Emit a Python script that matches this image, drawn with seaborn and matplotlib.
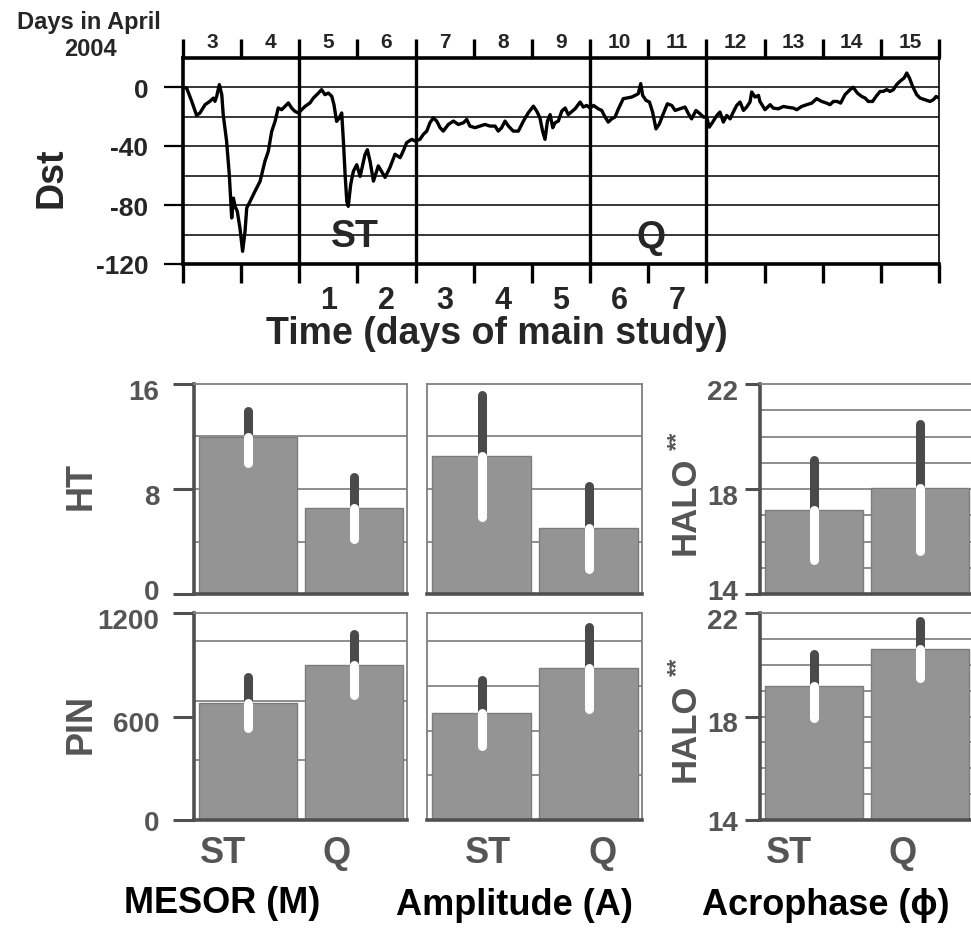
import matplotlib
matplotlib.use("Agg")
import matplotlib.pyplot as plt
import seaborn as sns
import numpy as np
import pandas as pd
from matplotlib.transforms import ScaledTranslation

# ---------------- data ----------------
dst_hours = [0.0, 1.5, 3.6, 5.6, 7.0, 9.1, 11.1, 12.5, 13.2, 13.9, 15.0, 16.0, 16.6, 18.0, 19.1,
             19.7, 20.1, 20.8, 21.5, 22.4, 23.5, 24.6, 25.6, 26.3, 27.7, 29.7, 31.8, 33.8, 35.2,
             36.6, 38.0, 39.3, 40.7, 42.1, 43.5, 44.8, 46.2, 47.6, 49.0, 50.4, 52.4, 53.8, 55.9,
             57.2, 58.6, 60.0, 61.4, 62.3, 63.4, 64.5, 65.5, 66.2, 66.9, 67.6, 68.2, 69.2, 70.3,
             71.7, 73.1, 74.2, 75.1, 76.1, 77.2, 78.6, 80.6, 83.4, 85.4, 87.5, 89.6, 90.9, 92.3,
             94.4, 95.7, 97.8, 99.2, 100.6, 101.9, 103.3, 104.7, 106.1, 107.4, 109.5, 111.6,
             113.6, 115.7, 117.1, 118.4, 120.5, 122.6, 124.6, 126.7, 128.8, 130.1, 131.5, 132.9,
             134.3, 136.3, 138.4, 140.5, 142.5, 144.6, 146.0, 147.3, 148.4, 149.4, 150.4, 151.5,
             152.6, 153.5, 154.9, 156.3, 157.7, 159.0, 161.8, 163.9, 165.2, 166.6, 168.0, 169.4,
             171.4, 172.8, 174.2, 175.5, 176.9, 178.3, 179.7, 181.7, 183.1, 185.2, 186.6, 187.9,
             188.9, 189.7, 191.1, 192.5, 193.8, 195.2, 196.6, 198.2, 199.9, 201.7, 203.1, 205.1,
             207.2, 208.6, 209.9, 211.7, 213.4, 214.8, 216.1, 217.2, 218.6, 220.3, 221.6, 223.0,
             224.4, 225.8, 227.1, 228.5, 229.9, 231.3, 232.6, 234.0, 234.7, 236.1, 237.5, 238.1,
             240.2, 242.3, 243.6, 245.7, 247.8, 249.8, 251.9, 253.3, 255.3, 257.4, 259.5, 261.5,
             263.6, 265.6, 267.0, 268.4, 270.0, 271.4, 273.2, 275.3, 276.6, 278.3, 280.1, 281.5,
             282.8, 284.6, 286.0, 287.7, 289.0, 290.4, 291.8, 293.2, 294.5, 295.9, 297.6, 298.7,
             299.8, 301.1, 302.8, 304.2, 306.2, 308.3, 309.7, 310.8, 312.0]
dst_values = [0.0, -0.7, -9.7, -19.2, -17.6, -12.0, -9.7, -7.5, -9.7, -6.3, 1.6, -5.2, -18.8, -36.8,
              -59.4, -77.5, -88.8, -75.3, -80.9, -84.3, -95.6, -111.4, -97.9, -82.0, -77.5, -70.7,
              -64.0, -50.4, -43.6, -30.1, -23.3, -14.2, -15.4, -13.1, -10.8, -14.2, -16.5, -17.6,
              -15.4, -13.1, -10.8, -7.5, -4.1, -1.8, -5.2, -4.1, -6.3, -12.0, -23.3, -21.0, -17.6,
              -36.8, -59.4, -77.5, -80.9, -66.2, -57.2, -52.7, -60.6, -52.7, -45.9, -42.5, -50.4,
              -63.8, -53.5, -61.3, -54.6, -45.6, -47.9, -43.4, -37.7, -35.5, -36.6, -35.5, -32.1,
              -29.9, -24.3, -20.9, -23.1, -27.6, -29.9, -25.4, -23.1, -25.4, -24.3, -22.0, -26.5,
              -27.6, -26.5, -25.4, -26.5, -26.5, -29.9, -27.6, -23.1, -26.5, -29.9, -29.9, -23.1,
              -17.5, -13.0, -16.4, -20.9, -29.9, -35.5, -23.1, -18.7, -27.6, -24.3, -23.1, -16.4,
              -14.2, -18.7, -14.8, -10.2, -13.6, -12.5, -14.3, -12.5, -14.8, -15.9, -20.4, -23.8,
              -21.6, -20.4, -14.8, -7.9, -7.5, -6.8, -5.7, -4.5, 2.3, -5.7, -9.1, -10.2, -17.0,
              -28.4, -25.0, -18.2, -11.4, -12.5, -15.9, -14.8, -13.6, -18.2, -21.6, -15.9, -18.2,
              -20.4, -20.4, -27.2, -23.8, -19.3, -17.0, -23.8, -19.3, -21.6, -17.0, -12.5, -10.2,
              -15.9, -13.6, -10.2, -3.4, -6.8, -5.7, -9.8, -15.4, -12.0, -14.3, -14.8, -13.2,
              -13.8, -14.3, -15.4, -13.2, -12.0, -10.9, -7.9, -9.8, -10.9, -12.0, -9.8, -9.8,
              -10.9, -5.2, -1.8, -0.2, -4.1, -6.4, -7.5, -9.8, -9.8, -6.4, -3.0, -3.0, -1.8,
              -3.0, -1.8, 1.6, 3.9, 6.1, 9.5, 6.1, 0.5, -5.2, -7.5, -8.6, -9.8, -8.6, -6.4, -7.5]

april_days = list(range(3, 16))          # top labels (days in April 2004)
study_days = list(range(1, 8))           # bottom labels (days of main study), April 5..11
study_first_april_day = 5
period_bounds = [5, 7, 10, 12]           # thick separators (ST: 5-6, Q: 10-11)
dst_ticks = [0, -40, -80, -120]
dst_minor = [-20, -60, -100]

groups = ["ST", "Q"]
ht_mesor, ht_mesor_ci = [11.95, 6.55], [2.0, 2.35]
ht_amp, ht_amp_ci = [10.5, 5.05], [4.65, 3.15]
ht_phase, ht_phase_ci = [17.2, 18.05], [1.9, 2.42]
pin_mesor, pin_mesor_ci = [681, 900], [147, 176]
pin_amp, pin_amp_ci = [620, 881], [191, 235]
pin_phase, pin_phase_ci = [19.19, 20.6], [1.23, 1.1]

# ---------------- style ----------------
sns.set_theme(style="white")
plt.rcParams["font.family"] = ["Liberation Sans", "DejaVu Sans"]
plt.rcParams["font.weight"] = "bold"
plt.rcParams["axes.unicode_minus"] = False

W, H = 971, 929
fig = plt.figure(figsize=(W / 100, H / 100), dpi=100)


def rect(x0, y0, x1, y1):
    return [x0 / W, 1 - y1 / H, (x1 - x0) / W, (y1 - y0) / H]


def shift(artist, dx, dy):
    artist.set_transform(artist.get_transform() +
                         ScaledTranslation(dx / 100, -dy / 100, fig.dpi_scale_trans))


# ---------------- top Dst chart ----------------
ax = fig.add_axes(rect(183, 58.5, 939, 265))
df = pd.DataFrame({"day": 3 + np.array(dst_hours) / 24.0, "dst": dst_values})
sns.lineplot(data=df, x="day", y="dst", ax=ax, color="black", lw=2.4,
             estimator=None, sort=False)
ax.set_xlim(3, 16)
ax.set_ylim(-120, 20)
ax.set_yticks(dst_ticks)
ax.set_yticks(dst_minor, minor=True)
ax.grid(False)
ax.grid(axis="y", which="both", color="black", lw=1.1)
ax.tick_params(axis="y", which="major", direction="out", length=14, width=1.6,
               color="black", labelsize=19, pad=11, left=True)
ax.tick_params(axis="y", which="minor", length=0)
for b in period_bounds:
    ax.axvline(b, color="black", lw=2.4)
for s in ["left", "top", "bottom"]:
    ax.spines[s].set_linewidth(2.6)
    ax.spines[s].set_color("black")
ax.spines["right"].set_linewidth(1.2)
ax.spines["right"].set_color("black")

ax.set_xticks(np.arange(3, 17))
ax.set_xticklabels([])
ax.tick_params(axis="x", which="major", direction="out", length=14, width=2.4,
               color="black", top=True, bottom=True)
ax.set_xticks([d + 0.5 for d in range(study_first_april_day, study_first_april_day + len(study_days))],
              minor=True)
ax.set_xticklabels([str(d) for d in study_days], minor=True)
ax.tick_params(axis="x", which="minor", length=0, pad=15, labelsize=22)
ax.set_xlabel("")
ax.set_ylabel("")

sec = ax.secondary_xaxis("top")
sec.set_xticks([d + 0.5 for d in april_days])
sec.set_xticklabels([str(d) for d in april_days])
sec.tick_params(length=0, pad=5, labelsize=15)
sec.spines["top"].set_visible(False)

ax.text(5.95, -101, "ST", fontsize=27, ha="center", va="center")
ax.text(11.05, -102, "Q", fontsize=27, ha="center", va="center")

fig.text(89 / W, 1 - 22 / H, "Days in April", fontsize=17, ha="center", va="center")
fig.text(90 / W, 1 - 50 / H, "2004", fontsize=17, ha="center", va="center")
fig.text(51 / W, 1 - 178 / H, "Dst", fontsize=27, rotation=90, ha="center", va="center")
fig.text(497 / W, 1 - 334 / H, "Time (days of main study)", fontsize=27,
         ha="center", va="center")

# ---------------- bar panels ----------------
GRAY_TXT = "#555555"
BAR = "#949494"
DARK = "#4a4a4a"

cols = [(194, 407), (427, 642), (760, 973)]
rows = [(385, 595), (614, 821)]

panels = [
    # row, col, values, ci, ylim, ticks, grid
    (0, 0, ht_mesor, ht_mesor_ci, (0, 16), [0, 8, 16], [4, 8, 12]),
    (0, 1, ht_amp, ht_amp_ci, (0, 16), [], [4, 8, 12]),
    (0, 2, ht_phase, ht_phase_ci, (14, 22), [14, 18, 22], [15, 16, 17, 18, 19, 20, 21]),
    (1, 0, pin_mesor, pin_mesor_ci, (0, 1200), [0, 600, 1200], [345, 690, 1035]),
    (1, 1, pin_amp, pin_amp_ci, (0, 1200), [], [259, 518, 777, 1036]),
    (1, 2, pin_phase, pin_phase_ci, (14, 22), [14, 18, 22], [15, 16, 17, 18, 19, 20, 21]),
]
label_shift = {0: (-25, -17), 1: (6, 14), 2: (-25, -17)}

for r, c, vals, ci, ylim, ticks, grid in panels:
    x0, x1 = cols[c]
    y0, y1 = rows[r]
    a = fig.add_axes(rect(x0, y0, x1, y1))
    bdf = pd.DataFrame({"group": groups, "value": vals})
    sns.barplot(data=bdf, x="group", y="value", ax=a, color=BAR, saturation=1,
                width=0.925, edgecolor="#7c7c7c", linewidth=1.0, errorbar=None, zorder=2)
    a.set_xlim(-0.51, 1.5)
    a.set_ylim(*ylim)
    a.grid(False)
    for g in grid:
        a.axhline(g, color="#7a7a7a", lw=1.2, zorder=0)
    xs = np.arange(len(groups))
    lo = np.array(vals) - np.array(ci)
    hi = np.array(vals) + np.array(ci)
    a.vlines(xs, vals, hi, color=DARK, lw=6.5, capstyle="round", zorder=3)
    a.vlines(xs, lo, vals, color="white", lw=6.5, capstyle="round", zorder=4)

    a.set_yticks(ticks)
    a.set_yticklabels([str(t) for t in ticks])
    tl = 11 if c == 2 else 15
    pd_ = 5 if c == 2 else 10
    a.tick_params(axis="y", direction="out", length=tl, width=2.2, color="#505050",
                  labelcolor=GRAY_TXT, labelsize=20, pad=pd_, left=True)
    ylabs = a.get_yticklabels()
    for i, lab in enumerate(ylabs):
        if i == 0:
            shift(lab, 0, -5 if r == 0 else 0)
        else:
            shift(lab, 0, 5)
    a.set_ylabel("")
    a.set_xlabel("")
    for s in ["top", "right"]:
        a.spines[s].set_color("#808080")
        a.spines[s].set_linewidth(1.3)
    a.spines["bottom"].set_color("#505050")
    a.spines["bottom"].set_linewidth(2.6)
    if c == 1:
        a.spines["left"].set_color("#808080")
        a.spines["left"].set_linewidth(1.3)
    else:
        a.spines["left"].set_color("#505050")
        a.spines["left"].set_linewidth(2.6)
    a.tick_params(axis="x", length=0, labelsize=26, labelcolor=GRAY_TXT, pad=11)
    if r == 0:
        a.set_xticklabels([])
    else:
        for lab, dx in zip(a.get_xticklabels(), label_shift[c]):
            shift(lab, dx, 0)

fig.text(81 / W, 1 - 486 / H, "HT", fontsize=26, rotation=90, ha="center", va="center", color=GRAY_TXT)
fig.text(81 / W, 1 - 724 / H, "PIN", fontsize=26, rotation=90, ha="center", va="center", color=GRAY_TXT)
for yc, ys in [(506, 441), (733, 667)]:
    fig.text(685 / W, 1 - yc / H, "HALO", fontsize=25, rotation=90, ha="center", va="center", color=GRAY_TXT)
    fig.text(677 / W, 1 - ys / H, "**", fontsize=17, rotation=90, ha="center", va="center", color=GRAY_TXT)

fig.text(222 / W, 1 - 904 / H, "MESOR (M)", fontsize=26, ha="center", va="center", color="black")
fig.text(514 / W, 1 - 906 / H, "Amplitude (A)", fontsize=26, ha="center", va="center", color="black")
fig.text(826 / W, 1 - 906 / H, "Acrophase (\u03d5)", fontsize=26, ha="center", va="center", color="black")

fig.savefig("out.png", dpi=100)
